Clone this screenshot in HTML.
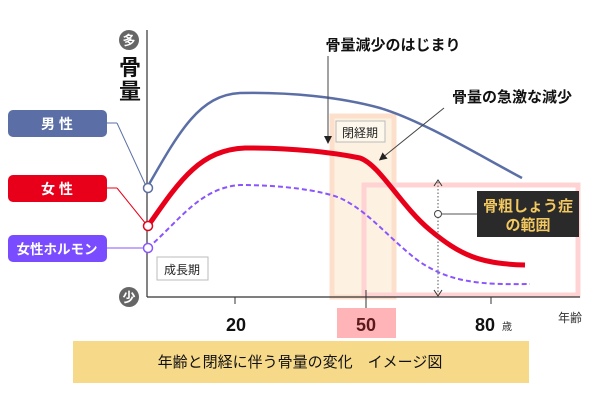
<!DOCTYPE html>
<html><head><meta charset="utf-8"><style>
body{margin:0;background:#fff}
svg{display:block}
text{font-family:"Liberation Sans","Noto Sans CJK JP",sans-serif}
</style></head><body>
<svg width="600" height="400" viewBox="0 0 600 400">
<defs><marker id="ah" markerWidth="8" markerHeight="8" refX="4" refY="4" orient="auto"><path d="M0,0 L8,4 L0,8z" fill="#222"/></marker></defs>
<rect x="332" y="116" width="62" height="181" fill="#fdf2e2" stroke="#fde0cc" stroke-width="5"/>
<rect x="364" y="185" width="214" height="110" fill="none" stroke="#ffd3d3" stroke-width="5"/>
<line x1="147" y1="30" x2="147" y2="297" stroke="#333" stroke-width="1.2"/>
<line x1="147" y1="297" x2="580" y2="297" stroke="#333" stroke-width="1.2"/>
<line x1="235" y1="297" x2="235" y2="304" stroke="#333"/>
<line x1="491" y1="297" x2="491" y2="304" stroke="#333"/>
<line x1="366" y1="290" x2="366" y2="318" stroke="#333"/>
<circle cx="129" cy="40" r="10" fill="#666"/><text x="129" y="45" font-size="13" fill="#fff" text-anchor="middle" font-weight="bold">多</text>
<circle cx="129" cy="297" r="10" fill="#666"/><text x="129" y="302" font-size="13" fill="#fff" text-anchor="middle" font-weight="bold">少</text>
<text x="130" y="75" font-size="22" font-weight="bold" text-anchor="middle" fill="#111">骨</text>
<text x="130" y="99" font-size="22" font-weight="bold" text-anchor="middle" fill="#111">量</text>
<path d="M148,186 C180,130 200,95 240,93 C290,92 340,97 380,108 C420,120 470,150 522,178" fill="none" stroke="#5b6fa6" stroke-width="2.5"/>
<path d="M148,226 C180,180 200,150 245,148 C290,148 330,152 360,158 C380,165 400,205 430,230 C460,255 480,264 525,265" fill="none" stroke="#e8001a" stroke-width="5"/>
<path d="M148,248 C180,220 200,188 240,185 C280,185 320,190 340,198 C370,212 390,240 420,262 C450,282 480,285 530,284" fill="none" stroke="#8a55ff" stroke-width="2" stroke-dasharray="5,3"/>
<line x1="107" y1="123" x2="117" y2="123" stroke="#5b6fa6"/><line x1="117" y1="123" x2="146" y2="186" stroke="#5b6fa6"/>
<line x1="107" y1="188" x2="117" y2="188" stroke="#e8001a"/><line x1="117" y1="188" x2="146" y2="224" stroke="#e8001a"/>
<line x1="107" y1="248" x2="146" y2="248" stroke="#8a55ff"/>
<circle cx="148" cy="188" r="4.5" fill="#fff" stroke="#5b6fa6" stroke-width="1.5"/>
<circle cx="148" cy="226" r="4.5" fill="#fff" stroke="#e8001a" stroke-width="1.5"/>
<circle cx="148" cy="248" r="4.5" fill="#fff" stroke="#8a55ff" stroke-width="1.5"/>
<rect x="8" y="110" width="99" height="27" rx="5" fill="#5b6fa6"/><text x="57" y="129" font-size="14" font-weight="bold" fill="#fff" text-anchor="middle">男 性</text>
<rect x="8" y="175" width="99" height="27" rx="5" fill="#e8001a"/><text x="57" y="194" font-size="14" font-weight="bold" fill="#fff" text-anchor="middle">女 性</text>
<rect x="8" y="235" width="99" height="27" rx="5" fill="#7a4cff"/><text x="57" y="254" font-size="13.5" font-weight="bold" fill="#fff" text-anchor="middle">女性ホルモン</text>
<rect x="157" y="257" width="51" height="23" fill="#fff" stroke="#bbb"/><text x="182" y="274" font-size="12" text-anchor="middle" fill="#222">成長期</text>
<rect x="336" y="121" width="49" height="21" fill="#fdf7ec" stroke="#bbb"/><text x="360" y="137" font-size="12" text-anchor="middle" fill="#222">閉経期</text>
<text x="393" y="50" font-size="15" font-weight="bold" text-anchor="middle" fill="#111">骨量減少のはじまり</text>
<line x1="328" y1="56" x2="328" y2="140" stroke="#444" marker-end="url(#ah)"/>
<text x="512" y="102" font-size="15" font-weight="bold" text-anchor="middle" fill="#111">骨量の急激な減少</text>
<line x1="444" y1="108" x2="382" y2="158" stroke="#444" marker-end="url(#ah)"/>
<line x1="438" y1="182" x2="438" y2="294" stroke="#555" stroke-dasharray="1.5,2"/>
<path d="M434,186 L438,180 L442,186" fill="none" stroke="#333"/>
<path d="M434,290 L438,296 L442,290" fill="none" stroke="#333"/>
<circle cx="438" cy="214" r="3.5" fill="#fff" stroke="#444"/>
<line x1="442" y1="214" x2="477" y2="214" stroke="#555"/>
<rect x="477" y="191" width="102" height="46" fill="#2a2a2a"/>
<text x="528" y="211" font-size="15" font-weight="bold" fill="#f2c860" text-anchor="middle">骨粗しょう症</text>
<text x="528" y="230" font-size="15" font-weight="bold" fill="#f2c860" text-anchor="middle">の範囲</text>
<text x="236" y="331" font-size="18" font-weight="600" text-anchor="middle" fill="#111">20</text>
<rect x="337" y="308" width="59" height="30" fill="#ffb4b8"/>
<text x="366" y="331" font-size="18" font-weight="600" text-anchor="middle" fill="#5a1a1a">50</text>
<text x="485" y="331" font-size="18" font-weight="600" text-anchor="middle" fill="#111">80</text>
<text x="507" y="330" font-size="10" text-anchor="middle" fill="#333">歳</text>
<text x="570" y="322" font-size="12" text-anchor="middle" fill="#333">年齢</text>
<rect x="73" y="341" width="456" height="42" fill="#f7d98a"/>
<text x="300" y="367" font-size="15" text-anchor="middle" fill="#111">年齢と閉経に伴う骨量の変化　イメージ図</text>
</svg>
</body></html>
